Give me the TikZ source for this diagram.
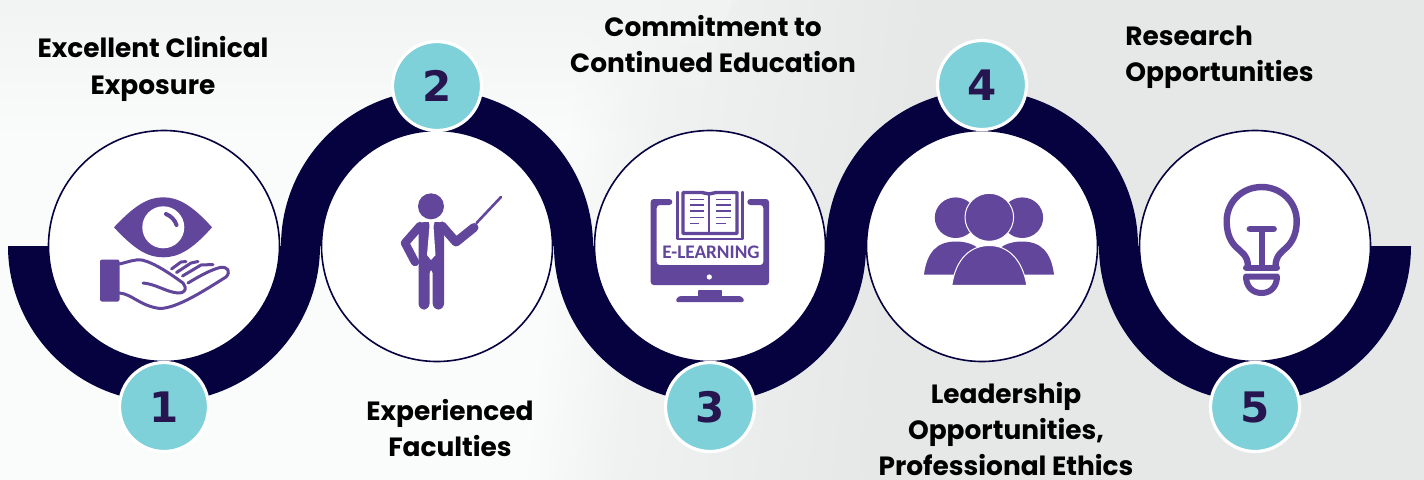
\documentclass[tikz,border=0pt]{standalone}
\usepackage{fontspec}
\setmainfont{Poppins}
\newfontfamily\numfont{DejaVu Sans}
\newfontfamily\iconfont{Carlito}
\usetikzlibrary{positioning, fadings}
\definecolor{ulnavy}{HTML}{05023F}
\definecolor{ulteal}{HTML}{7ED0D9}
\definecolor{ulpurple}{HTML}{61469B}
\definecolor{ulink}{HTML}{26154F}
\definecolor{ulpale}{HTML}{FAFBFB}
\definecolor{ulcorner}{HTML}{F2F3F3}
\definecolor{ulmid}{HTML}{F0F1F1}
\definecolor{ulgrey}{HTML}{E6E8E8}
\pgfdeclarehorizontalshading{ulback}{100bp}{color(0bp)=(ulpale); color(44bp)=(ulpale); color(47.5bp)=(ulmid); color(57bp)=(ulgrey); color(100bp)=(ulgrey)}
\tikzset{
  bigdisc/.style={circle, draw=ulnavy, line width=.8pt, fill=white, minimum size=115.5pt, inner sep=0pt},
  badge/.style={circle, draw=white, line width=1.6pt, fill=ulteal, minimum size=44.5pt, inner sep=0pt,
    text=ulink, font=\numfont\bfseries\fontsize{21}{21}\selectfont},
  lbl/.style={align=center, inner sep=0pt, text=black, font=\bfseries\fontsize{13.2}{18.2}\selectfont},
  band/.style={fill=ulnavy, draw=none},
  stroke/.style={draw=ulpurple, line cap=round, line join=round},
}
\begin{document}
\begin{tikzpicture}[x=0.5pt, y=-0.5pt]
  \useasboundingbox (0,0) rectangle (1424,479);
  % backdrop
  \shade[shading=ulback, shading angle=-7] (0,0) rectangle (1424,479);
  \fill[ulcorner, path fading=south] (0,0) -- (733,0) -- (693,130) -- (0,130) -- cycle;

  % bands, lower halves at 1 3 5, upper halves at 2 4
  \foreach \cx in {164,710,1255}
    \fill[band] (\cx-156,246) arc[start angle=180, end angle=0, radius=156]
      -- (\cx+115,246) arc[start angle=0, end angle=180, radius=115] -- cycle;
  \foreach \cx in {437,982}
    \fill[band] (\cx-156,246) arc[start angle=180, end angle=360, radius=156]
      -- (\cx+115,246) arc[start angle=360, end angle=180, radius=115] -- cycle;

  % big discs and number badges
  \foreach \nm/\cx/\by in {1/164/407, 2/437/86, 3/710/407, 4/982/85, 5/1255/407} {
    \node[bigdisc] (disc\nm) at (\cx,246) {};
    \node[badge] (badge\nm) at (\cx,\by) {\nm};
  }

  % labels
  \node[lbl] (lblone) at (153,69) {Excellent Clinical\\Exposure};
  \node[lbl] (lbltwo) at (450,428) {Experienced\\Faculties};
  \node[lbl] (lblthree) at (713,44) {Commitment to\\Continued Education};
  \node[lbl, align=left, anchor=west] (lblfour) at (1125,57) {Research\\Opportunities};
  \node[lbl] (lblfive) at (1006,429) {Leadership\\Opportunities,\\Professional Ethics};

  % eye and hand
  \fill[ulpurple] (114,227.3) .. controls (135,205) and (148,197.3) .. (163.3,197.3)
    .. controls (178,197.3) and (192,205) .. (212,227.3)
    .. controls (192,250) and (178,257.3) .. (163.3,257.3)
    .. controls (148,257.3) and (135,250) .. cycle;
  \fill[white] (163.3,227.3) circle[radius=21];
  \draw[stroke, line width=2pt] (166,214) .. controls (171,216) and (175,220) .. (176.5,225);
  \fill[ulpurple, rounded corners=1pt] (100,259.5) rectangle (119.5,301.5);
  \draw[stroke, line width=1.5pt] (119.5,264) .. controls (128,262) and (135,259) .. (142,260)
    .. controls (155,263) and (172,275) .. (183,283) .. controls (187,288) and (186,293) .. (178,293)
    .. controls (166,292) and (156,284) .. (143,283);
  \draw[stroke, line width=1.5pt] (119.5,293) .. controls (132,294) and (140,306) .. (160,308.5)
    .. controls (178,308) and (205,290) .. (226,277) .. controls (231,272) and (228,266) .. (220,267.5)
    .. controls (210,270) and (198,277) .. (188,283);
  \draw[stroke, line width=1.5pt] (171.5,269) -- (181,262) -- (186,261.5);
  \draw[stroke, line width=1.5pt] (176.5,272.5) -- (191,263) -- (198,261.5);
  \draw[stroke, line width=1.5pt] (182.5,276) -- (201,265) -- (213,264.5);

  % teacher
  \fill[ulpurple] (431,206.3) circle[radius=13];
  \fill[ulpurple, rounded corners=3pt] (418.5,222) -- (444,222) -- (444,309.5) -- (432.7,309.5) -- (432.7,268) -- (429.5,268) -- (429.5,309.5) -- (418.5,309.5) -- cycle;
  \draw[stroke, line width=4.2pt] (420,226) -- (405,243) -- (415,262);
  \draw[stroke, line width=4.5pt] (442,226) -- (456,242) -- (474,227.5);
  \draw[stroke, line width=1.3pt] (476.5,223) -- (501,197);
  \fill[white] (429,222) -- (434.5,222) -- (433.5,226) -- (435.5,255) -- (431,260) -- (427,255) -- (429.5,226) -- cycle;

  % monitor with book
  \fill[ulpurple, rounded corners=1.5pt] (650.7,199) -- (672.3,199) -- (672.3,205) -- (656.7,205) -- (656.7,265)
    -- (763.3,265) -- (763.3,205) -- (747.3,205) -- (747.3,199) -- (769,199) -- (769,285) -- (650.7,285) -- cycle;
  \fill[white] (709.3,277) circle[radius=2.6];
  \fill[ulpurple] (698.3,290) -- (721.7,290) -- (722,296) -- (698,296) -- cycle;
  \fill[ulpurple, rounded corners=1.5pt] (675,302) -- (678,296) -- (742,296) -- (745,302) -- cycle;
  \draw[stroke, line width=1.2pt] (677.5,192) -- (677.5,239) -- (742.5,239) -- (742.5,192);
  \draw[stroke, line width=1.7pt] (709,233.5) -- (683,233.5) -- (683,192.5) -- (702,192.5) -- (709,194) -- (716,192.5) -- (737,192.5) -- (737,233.5) -- cycle;
  \draw[stroke, line width=1.3pt] (709,194) -- (709,233);
  \foreach \ly in {199.5,205,211,217.5} {
    \draw[stroke, line width=.8pt, line cap=butt] (690,\ly) -- (704,\ly);
    \draw[stroke, line width=.8pt, line cap=butt] (716,\ly) -- (731,\ly);
  }
  \draw[stroke, line width=.8pt, line cap=butt] (690,223.5) -- (699,223.5);
  \draw[stroke, line width=.8pt, line cap=butt] (716,223.5) -- (726,223.5);
  \node[inner sep=0pt, text=ulpurple, font=\iconfont\bfseries\fontsize{9.6}{10}\selectfont] (elearn) at (711,252.3) {E-LEARNING};

  % three people
  \fill[ulpurple] (955.6,217.7) ellipse[x radius=20.8, y radius=20.3];
  \fill[ulpurple] (1022.3,217.7) ellipse[x radius=20.8, y radius=20.3];
  \fill[ulpurple] (924,274.5) .. controls (927,252) and (937,241.5) .. (956,241.5)
    .. controls (973,241.5) and (989,250) .. (989,274.5) -- cycle;
  \fill[ulpurple] (1054,274.5) .. controls (1051,252) and (1041,241.5) .. (1022,241.5)
    .. controls (1005,241.5) and (989,250) .. (989,274.5) -- cycle;
  \filldraw[fill=ulpurple, draw=white, line width=.5pt] (989.3,217.3) ellipse[x radius=24.3, y radius=24];
  \filldraw[fill=ulpurple, draw=white, line width=.5pt] (951.8,285.3) .. controls (956,258) and (971,245.5) .. (989.3,245.5)
    .. controls (1007,245.5) and (1022,258) .. (1026.8,285.3) -- cycle;

  % bulb
  \draw[stroke, line width=3.2pt] (1248,267) .. controls (1248,255) and (1241,252) .. (1236,247)
    .. controls (1229,240) and (1226.7,231) .. (1226.7,221) .. controls (1226.7,202) and (1242,187) .. (1261.7,187)
    .. controls (1281,187) and (1296.7,202) .. (1296.7,221) .. controls (1296.7,231) and (1294,240) .. (1287,247)
    .. controls (1282,252) and (1275.5,255) .. (1275.5,267);
  \draw[stroke, line width=3pt] (1246,267.5) -- (1277,267.5);
  \draw[stroke, line width=3.4pt] (1250,229) -- (1273.5,229);
  \draw[stroke, line width=2.8pt] (1261.7,229) -- (1261.7,266);
  \draw[stroke, line width=3pt] (1246,276.5) -- (1277,276.5) .. controls (1277,286) and (1271,293) .. (1261.7,293)
    .. controls (1252,293) and (1246,286) .. cycle;
\end{tikzpicture}
\end{document}
